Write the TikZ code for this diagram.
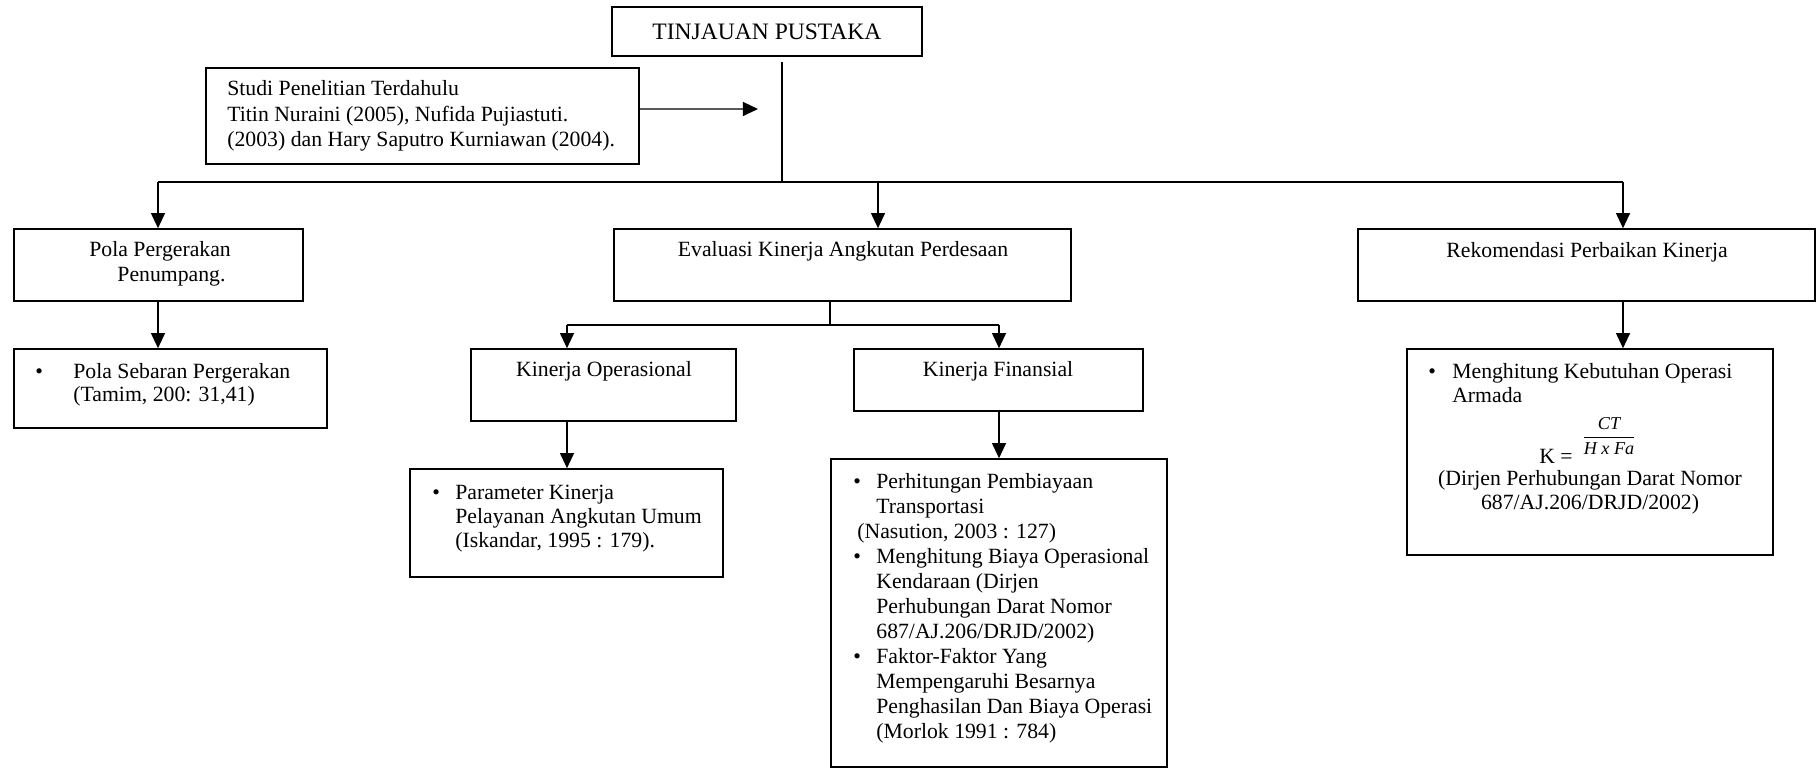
\documentclass[tikz,border=0pt]{standalone}
\usepackage{fontspec}
\setmainfont{Liberation Serif}
\usepackage{amsmath}
\usetikzlibrary{arrows.meta,calc}
\newcommand{\mybul}[1]{\makebox[#1][l]{\textbullet}}
\tikzset{
  box/.style={draw, line width=0.9pt, inner sep=0pt, rectangle},
  sz/.style 2 args={minimum width=#1*0.552pt, minimum height=#2*0.552pt},
  txt/.style={inner sep=0pt, font=\fontsize{12}{13.8}\selectfont},
  conn/.style={line width=0.7pt},
  arr/.style={conn, -{Triangle[length=8.3pt,width=7.7pt]}},
}
\begin{document}
\begin{tikzpicture}[x=0.552pt, y=-0.552pt]
\useasboundingbox (0,0) rectangle (1820,770);

% boxes and texts
\node[box, sz={310}{49}, font=\fontsize{13}{15}\selectfont] (tin) at (767,31.5) {TINJAUAN PUSTAKA};

\node[box, sz={433}{96}] (studi) at (422.5,116) {};
\node[txt, anchor=west, align=left, font=\fontsize{12}{14.2}\selectfont] (studiT) at (227,116)
  {\strut Studi Penelitian Terdahulu\\ Titin Nuraini (2005), Nufida Pujiastuti.\\ (2003) dan Hary Saputro Kurniawan (2004).\strut};

\node[box, sz={289}{72}] (pola) at (158.5,265) {};
\node[txt, anchor=west, align=left] (polaT) at (89,264.5)
  {\strut Pola Pergerakan\\ \hspace*{15.5pt}Penumpang.\strut};

\node[box, sz={457}{72}] (eval) at (842.5,265) {};
\node[txt] (evalT) at (843,252) {\strut Evaluasi Kinerja Angkutan Perdesaan};

\node[box, sz={457}{72}] (rek) at (1586.5,265) {};
\node[txt] (rekT) at (1587,253) {\strut Rekomendasi Perbaikan Kinerja};

\node[box, sz={313}{79}] (seb) at (170.5,388.5) {};
\node[txt, anchor=west, align=left, font=\fontsize{12}{12.6}\selectfont] (sebT) at (35,385.5)
  {\strut\mybul{21pt}Pola Sebaran Pergerakan\\ \hspace*{21pt}(Tamim, 200: 31,41)\strut};

\node[box, sz={265}{72}] (kop) at (603.5,385) {};
\node[txt] (kopT) at (604,372) {\strut Kinerja Operasional};

\node[box, sz={289}{62}] (kfin) at (998.5,380) {};
\node[txt] (kfinT) at (998,372) {\strut Kinerja Finansial};

\node[box, sz={313}{108}] (param) at (566.5,523) {};
\node[txt, anchor=west, align=left, font=\fontsize{12}{13.2}\selectfont] (paramT) at (432,519)
  {\strut\mybul{12.7pt}Parameter Kinerja\\ \hspace*{12.7pt}Pelayanan Angkutan Umum\\ \hspace*{12.7pt}(Iskandar, 1995 : 179).\strut};

\node[box, sz={336}{308}] (perh) at (999,613) {};
\node[txt, anchor=west, align=left] (perhT) at (853,608)
  {\strut\mybul{12.7pt}Perhitungan Pembiayaan\\
   \hspace*{12.7pt}Transportasi\\
   \hspace*{2.2pt}(Nasution, 2003 : 127)\\
   \mybul{12.7pt}Menghitung Biaya Operasional\\
   \hspace*{12.7pt}Kendaraan (Dirjen\\
   \hspace*{12.7pt}Perhubungan Darat Nomor\\
   \hspace*{12.7pt}687/AJ.206/DRJD/2002)\\
   \mybul{12.7pt}Faktor-Faktor Yang\\
   \hspace*{12.7pt}Mempengaruhi Besarnya\\
   \hspace*{12.7pt}Penghasilan Dan Biaya Operasi\\
   \hspace*{12.7pt}(Morlok 1991 : 784)\strut};

\node[box, sz={366}{206}] (meng) at (1590,452) {};
\node[txt, anchor=west, align=left, font=\fontsize{12}{13.2}\selectfont] (mengT) at (1428,386)
  {\strut\mybul{13.2pt}Menghitung Kebutuhan Operasi\\ \hspace*{13.2pt}Armada\strut};
\node[txt] (mengK) at (1556,456) {K =};
\node[inner sep=0pt, font=\fontsize{10}{12}\selectfont] (mengF) at (1609,436)
  {$\dfrac{\textit{CT}}{\textit{H x Fa}}$};
\node[txt, align=center, font=\fontsize{12}{13.2}\selectfont] (mengR) at (1590,493)
  {\strut(Dirjen Perhubungan Darat Nomor\\ 687/AJ.206/DRJD/2002)\strut};

% junctions
\coordinate (jt) at (782,182);
\coordinate (jl) at (158,182);
\coordinate (jm) at (878,182);
\coordinate (jr) at (1623,182);
\coordinate (sa) at (758,109);
\coordinate (es) at (830,325);
\coordinate (esl) at (567,325);
\coordinate (esr) at (999,325);

% connectors
\draw[conn] ($(tin.south -| jt)+(0,5)$) -- (jt);
\draw[conn] (jl) -- (jr);
\draw[arr] ([yshift=3.9pt]studi.east) -- (sa);
\draw[arr] (jl) -- (jl |- pola.north);
\draw[arr] (jm) -- (jm |- eval.north);
\draw[arr] (jr) -- (jr |- rek.north);
\draw[arr] (pola.south -| jl) -- (jl |- seb.north);
\draw[conn] (eval.south -| es) -- (es);
\draw[conn] (esl) -- (esr);
\draw[arr] (esl) -- (esl |- kop.north);
\draw[arr] (esr) -- (esr |- kfin.north);
\draw[arr] (kop.south -| esl) -- (esl |- param.north);
\draw[arr] (kfin.south -| esr) -- (esr |- perh.north);
\draw[arr] (rek.south -| jr) -- (jr |- meng.north);
\end{tikzpicture}
\end{document}
